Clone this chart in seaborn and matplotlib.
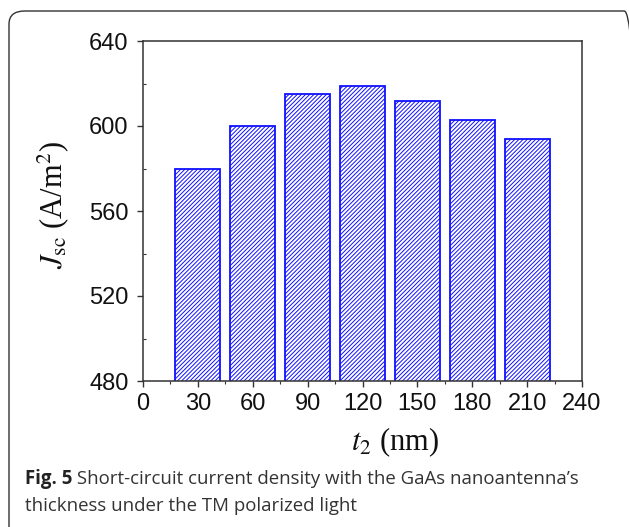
import matplotlib
matplotlib.use("Agg")
import matplotlib.pyplot as plt
import seaborn as sns
import pandas as pd
from matplotlib.patches import FancyBboxPatch
from matplotlib.ticker import MultipleLocator

# Data
t2_nm = [30, 60, 90, 120, 150, 180, 210]
jsc = [580, 600, 615, 619, 612, 603, 594]
x_ticks = [0, 30, 60, 90, 120, 150, 180, 210, 240]
y_ticks = [480, 520, 560, 600, 640]
caption_bold = "Fig. 5"
caption_rest = " Short-circuit current density with the GaAs nanoantenna\u2019s"
caption_line2 = "thickness under the TM polarized light"

sns.set_theme(style="white")
plt.rcParams['font.family'] = ['Liberation Sans', 'DejaVu Sans']
plt.rcParams['mathtext.fontset'] = 'stix'
plt.rcParams['hatch.linewidth'] = 0.7
plt.rcParams['hatch.color'] = '#1a1aff'

df = pd.DataFrame({"t2": t2_nm, "jsc": jsc})

W, H = 629, 527
fig = plt.figure(figsize=(W / 100, H / 100), dpi=100)
ax = fig.add_axes([143 / W, 1 - 381 / H, (582 - 143) / W, (381 - 41) / H])

sns.barplot(data=df, x="t2", y="jsc", native_scale=True, width=0.82,
            color="white", edgecolor="#1010ff", linewidth=1.3, ax=ax,
            errorbar=None, saturation=1)
for p in ax.patches:
    p.set_hatch("////////")
    p.set_facecolor("white")
    p.set_edgecolor("#1010ff")

ax.set_xlim(0, 240)
ax.set_ylim(480, 640)
ax.set_xticks(x_ticks)
ax.set_yticks(y_ticks)
ax.xaxis.set_minor_locator(MultipleLocator(15))
ax.yaxis.set_minor_locator(MultipleLocator(20))
ax.tick_params(axis='both', which='major', direction='out', length=4,
               width=1.0, color='#333333', labelsize=17,
               labelcolor='#111111', bottom=True, left=True)
ax.tick_params(axis='y', which='major', pad=6.5)
ax.tick_params(axis='x', which='major', pad=5)
ax.tick_params(axis='x', which='minor', direction='out', length=2,
               width=0.8, color='#333333', bottom=True)
ax.tick_params(axis='y', which='minor', direction='in', length=2,
               width=0.8, color='#333333', left=True)
for s in ax.spines.values():
    s.set_visible(True)
    s.set_color('#333333')
    s.set_linewidth(1.1)

ax.set_xlabel(r"$t_2$ (nm)", fontsize=22, family='Liberation Serif',
              color='#111111', va='center')
ax.set_ylabel(r"$J_{\rm sc}$ (A/m$^2$)", fontsize=22, family='Liberation Serif',
              color='#111111', va='center')
ax.xaxis.set_label_coords((395 - 143) / 439, (381 - 442) / 340)
ax.yaxis.set_label_coords((53 - 143) / 439, (381 - 205) / 340)

# Frame
frame = FancyBboxPatch((9 / W, 1 - 540 / H), (640 - 9) / W, (540 - 11) / H,
                       boxstyle="round,pad=0,rounding_size=0.025",
                       transform=fig.transFigure, fill=False,
                       edgecolor='#333333', linewidth=1.0, clip_on=False)
fig.patches.append(frame)

# Caption
cap_font = ['Open Sans', 'DejaVu Sans']
fs = 13.4
y1 = 1 - 479 / H
y2 = 1 - 506 / H
t1 = fig.text(25 / W, y1, caption_bold, fontsize=fs, fontweight='bold',
              family=cap_font, color='#222222', va='center', ha='left')
fig.canvas.draw()
bb = t1.get_window_extent(renderer=fig.canvas.get_renderer())
fig.text(bb.x1 / W, y1, caption_rest, fontsize=fs, family=cap_font,
         color='#333333', va='center', ha='left')
fig.text(25 / W, y2, caption_line2, fontsize=fs, family=cap_font,
         color='#333333', va='center', ha='left')

fig.savefig("out.png", dpi=100)
